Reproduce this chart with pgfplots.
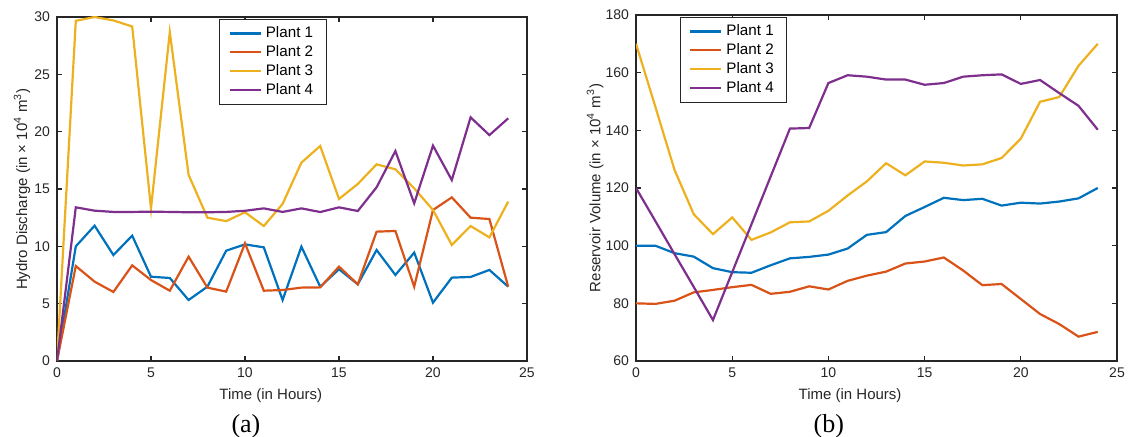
\documentclass[border=0pt]{standalone}
\usepackage{fontspec}
\setmainfont{Liberation Sans}
\newfontfamily\serifont{Liberation Serif}
\usepackage{pgfplots}
\pgfplotsset{compat=1.18}
\usepackage{pgfplotstable}

\definecolor{c1}{rgb}{0,0.447,0.741}
\definecolor{c2}{rgb}{0.85,0.325,0.098}
\definecolor{c3}{rgb}{0.929,0.694,0.125}
\definecolor{c4}{rgb}{0.494,0.184,0.556}
\definecolor{axc}{gray}{0.15}

% hydro discharge, 10^4 m^3
\pgfplotstableread{
t   p1     p2     p3     p4
0   0      0      0      0
1   10.0   8.28   29.67  13.4
2   11.8   6.92   30.0   13.11
3   9.24   6.02   29.7   13.0
4   10.93  8.34   29.17  13.0
5   7.35   7.06   13.3   13.02
6   7.24   6.13   28.68  13.0
7   5.32   9.1    16.23  12.97
8   6.48   6.4    12.5   12.97
9   9.62   6.05   12.2   13.0
10  10.17  10.26  12.97  13.1
11  9.91   6.13   11.77  13.31
12  5.32   6.19   13.7   13.0
13  9.97   6.4    17.3   13.31
14  6.48   6.42   18.75  12.99
15  8.0    8.23   14.13  13.4
16  6.69   6.69   15.44  13.08
17  9.68   11.28  17.15  15.15
18  7.5    11.34  16.72  18.31
19  9.45   6.48   15.06  13.75
20  5.09   13.17  13.17  18.78
21  7.27   14.27  10.12  15.78
22  7.33   12.5   11.77  21.25
23  7.94   12.38  10.78  19.7
24  6.48   6.48   13.9   21.16
}\discharge

% reservoir volume, 10^4 m^3
\pgfplotstableread{
t   p1     p2     p3     p4
0   100    80     170    120
1   100    79.8   148.3  108.6
2   97.4   80.9   126.3  97.1
3   96.2   83.8   110.9  85.7
4   92.2   84.65  104    74.2
5   90.8   85.6   109.8  90.8
6   90.6   86.4   102    107.4
7   93.2   83.3   104.6  124
8   95.6   84.0   108.1  140.6
9   96.1   85.9   108.4  140.8
10  96.9   84.8   112.1  156.4
11  99.0   87.8   117.4  159.1
12  103.75 89.6   122.3  158.6
13  104.7  91.0   128.6  157.6
14  110.3  93.8   124.4  157.6
15  113.4  94.5   129.2  155.8
16  116.6  95.9   128.75 156.4
17  115.8  91.4   127.8  158.6
18  116.25 86.3   128.2  159.1
19  113.9  86.7   130.4  159.4
20  114.9  81.5   137.1  156.1
21  114.6  76.3   149.9  157.45
22  115.3  72.8   151.55 152.9
23  116.4  68.45  162.4  148.5
24  120    70.1   170    140.2
}\volume

\pgfplotsset{
  mstyle/.style={
    scale only axis,
    clip mode=individual,
    xmin=0, xmax=25, xtick={0,5,...,25},
    axis line style={axc, line width=0.6pt},
    major tick style={axc, line width=0.6pt},
    major tick length=2.5pt,
    tick label style={font=\fontsize{7}{8}\selectfont, text=axc},
    label style={font=\fontsize{7.5}{9}\selectfont, text=axc},
    /pgf/number format/assume math mode=true,
    legend cell align=left,
    legend image code/.code={\draw[#1] (0pt,0pt) -- (15.5pt,0pt);},
    legend style={font=\fontsize{7.6}{8}\selectfont, draw=axc, line width=0.5pt,
      anchor=north west, inner xsep=4.5pt, inner ysep=1.5pt, row sep=-1.6pt},
    every axis plot/.append style={line width=1.1pt},
  }
}

\begin{document}
\begin{tikzpicture}
\begin{axis}[mstyle,
  at={(0,0)}, anchor=south west,
  width=235pt, height=172pt,
  ymin=0, ymax=30, ytick={0,5,...,30},
  xlabel={Time (in Hours)},
  ylabel={Hydro Discharge (in × 10\textsuperscript{4} m\textsuperscript{3})},
  xlabel style={at={(axis description cs:0.455,-0.102)}, anchor=center},
  ylabel style={at={(axis description cs:-0.0745,0.5)}, anchor=center},
  legend style={at={(axis description cs:0.345,0.994)}},
]
\addplot[c1] table[x=t,y=p1] {\discharge};
\addplot[c2] table[x=t,y=p2] {\discharge};
\addplot[c3] table[x=t,y=p3] {\discharge};
\addplot[c4] table[x=t,y=p4] {\discharge};
\legend{Plant 1, Plant 2, Plant 3, Plant 4}
\node[font=\serifont\fontsize{13}{15}\selectfont] at (axis description cs:0.402,-0.189) {(a)};
\end{axis}

\begin{axis}[mstyle,
  at={(289.5pt,0)}, anchor=south west,
  width=240.5pt, height=173pt,
  ymin=60, ymax=180, ytick={60,80,...,180},
  xlabel={Time (in Hours)},
  ylabel={Reservoir Volume (in × 10\textsuperscript{4} m\textsuperscript{3})},
  xlabel style={at={(axis description cs:0.445,-0.101)}, anchor=center},
  ylabel style={at={(axis description cs:-0.085,0.5)}, anchor=center},
  legend style={at={(axis description cs:0.091,0.994)}},
]
\addplot[c1] table[x=t,y=p1] {\volume};
\addplot[c2] table[x=t,y=p2] {\volume};
\addplot[c3] table[x=t,y=p3] {\volume};
\addplot[c4] table[x=t,y=p4] {\volume};
\legend{Plant 1, Plant 2, Plant 3, Plant 4}
\node[font=\serifont\fontsize{13}{15}\selectfont] at (axis description cs:0.401,-0.188) {(b)};
\end{axis}

\pgfresetboundingbox
\path (-28.5pt,-38pt) rectangle (535.5pt,180.5pt);
\end{tikzpicture}
\end{document}
